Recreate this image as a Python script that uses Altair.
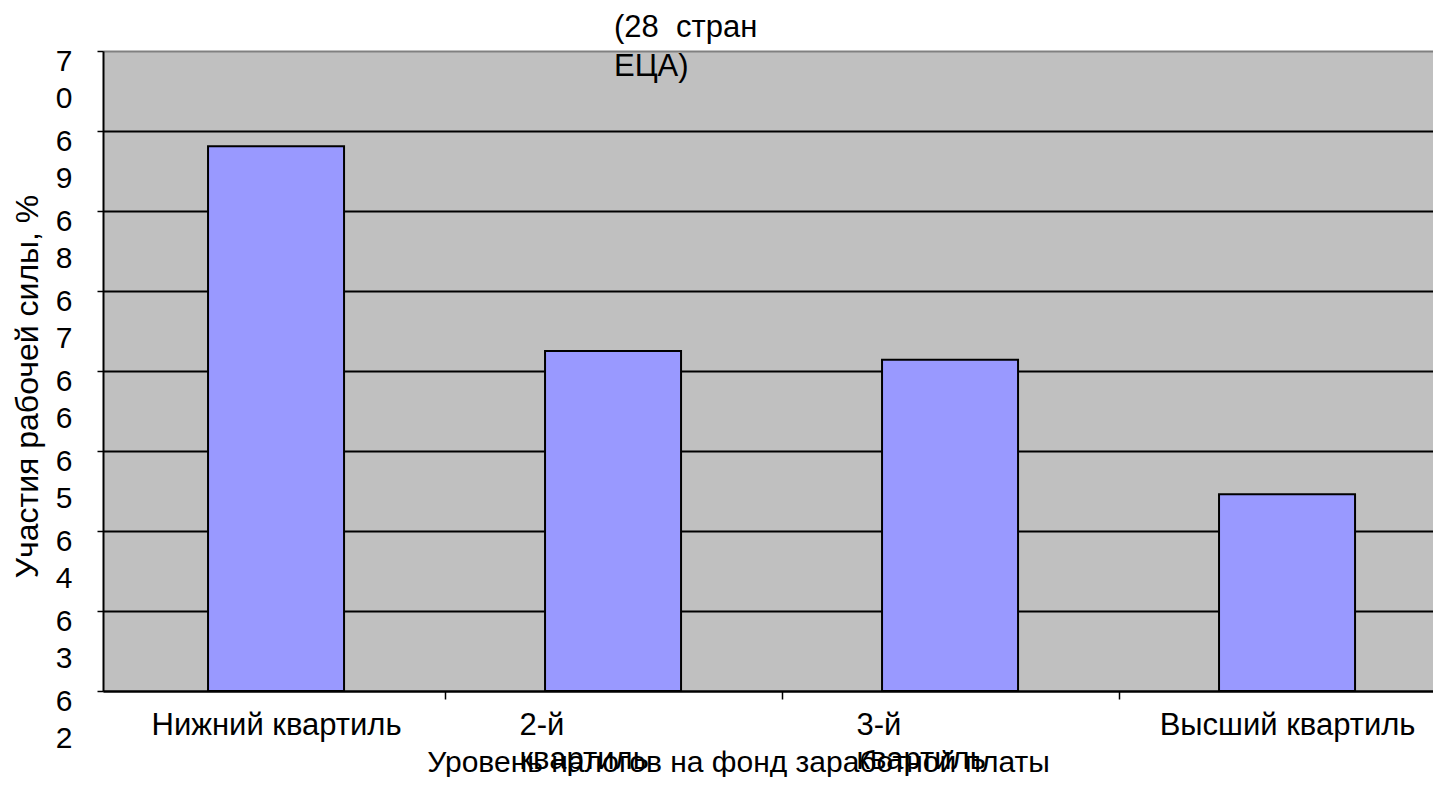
import altair as alt
import pandas as pd

CATEGORIES = ["Нижний квартиль", "2-й квартиль", "3-й квартиль", "Высший квартиль"]
VALUES = [68.81, 66.25, 66.14, 64.46]
BASE = [62, 62, 62, 62]
Y_TICKS = [62, 63, 64, 65, 66, 67, 68, 69, 70]
TITLE_LINES = ["(28 \u00a0стран", "ЕЦА)"]
X_TITLE = "Уровень налогов на фонд заработной платы"
Y_TITLE = "Участия рабочей силы, %"

FONT = "Liberation Sans"

df = pd.DataFrame({"cat": CATEGORIES, "val": VALUES, "base": BASE})

wrapped_test = "datum.value == '2-й квартиль' || datum.value == '3-й квартиль'"
HALF_STEP = 168.5

x_enc = alt.X(
    "cat:N",
    sort=CATEGORIES,
    scale=alt.Scale(paddingInner=0.5964, paddingOuter=0.2715, align=0.574),
    axis=alt.Axis(
        title=X_TITLE,
        labelAngle=0,
        labelFont=FONT,
        labelFontSize=31,
        labelColor="black",
        labelBaseline="top",
        labelLineHeight=34,
        labelPadding=11,
        labelLimit=0,
        labelExpr="(datum.label == '2-й квартиль' || datum.label == '3-й квартиль') ? split(datum.label, ' ') : datum.label",
        labelAlign={"condition": {"test": wrapped_test, "value": "left"}, "value": "center"},
        labelOffset={"condition": {"test": wrapped_test, "value": -94 - HALF_STEP}, "value": -HALF_STEP},
        tickOffset=HALF_STEP,
        tickSize=8,
        tickColor="black",
        tickWidth=1.5,
        domainColor="black",
        domainWidth=2,
        grid=False,
        titleFont=FONT,
        titleFontSize=30,
        titleFontWeight="normal",
        titleColor="black",
        titleX=635,
        titleY=80,
        titleBaseline="alphabetic",
        titleLimit=0,
    ),
)

y_enc = alt.Y(
    "val:Q",
    scale=alt.Scale(domain=[62, 70], zero=False, nice=False),
    axis=alt.Axis(
        title=Y_TITLE,
        values=Y_TICKS,
        labelExpr="[substring(datum.label, 0, 1), substring(datum.label, 1)]",
        labelFont=FONT,
        labelFontSize=30,
        labelColor="black",
        labelBaseline="top",
        labelAlign="right",
        labelLineHeight=37,
        labelOffset=-5,
        labelPadding=25,
        tickSize=6,
        tickColor="black",
        tickWidth=1.5,
        domainColor="black",
        domainWidth=2,
        grid=True,
        gridColor={"condition": {"test": "datum.value == 70", "value": "#808080"}, "value": "black"},
        gridWidth=2,
        titleFont=FONT,
        titleFontSize=32,
        titleFontWeight="normal",
        titleColor="black",
        titleAngle=270,
        titleX=-66,
        titleY=335,
        titleBaseline="alphabetic",
        titleAlign="center",
        titleLimit=0,
    ),
)

bars = alt.Chart(df).mark_bar(color="#9999FF", stroke="black", strokeWidth=2).encode(
    x=x_enc,
    y=y_enc,
    y2=alt.Y2("base:Q"),
)

title_df = pd.DataFrame({"t": ["\n".join(TITLE_LINES)]})
title = alt.Chart(title_df).mark_text(
    font=FONT,
    fontSize=31,
    color="black",
    align="left",
    baseline="alphabetic",
    lineBreak="\n",
    lineHeight=39,
).encode(
    text="t:N",
    x=alt.value(511),
    y=alt.value(-14),
)

chart = alt.layer(bars, title).properties(
    width=1330,
    height=640,
    autosize=alt.AutoSizeParams(type="none"),
    padding={"left": 95, "top": 43, "right": 0, "bottom": 86},
    background="white",
).configure_view(
    fill="#C0C0C0",
    strokeWidth=0,
)

chart.save("out.html", embed_options={"renderer": "svg", "actions": False})
